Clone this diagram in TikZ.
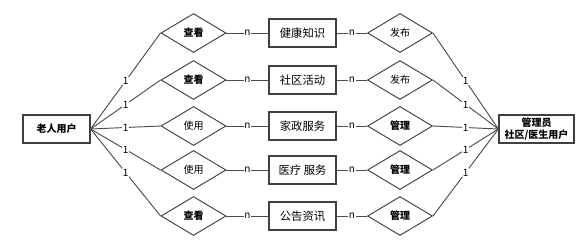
\documentclass[tikz,border=0pt]{standalone}
\usepackage{fontspec}
\setmainfont{Noto Sans CJK SC}
\usetikzlibrary{shapes.geometric}
\tikzset{
  entity/.style={draw=black!75, line width=0.9pt, fill=white, minimum width=50.25pt,
    minimum height=21pt, inner sep=1pt, align=center, font=\fontsize{8.5}{10}\selectfont},
  mainentity/.style={entity, font=\fontsize{7.5}{8.6}\selectfont\bfseries},
  relation/.style={diamond, draw=black!75, line width=0.7pt, fill=white, aspect=1.67,
    minimum width=48.75pt, minimum height=29.25pt, inner sep=0pt},
  card/.style={fill=white, inner sep=0.6pt, font=\fontsize{7.5}{8}\selectfont},
  link/.style={draw=black!70, line width=0.7pt}
}
\begin{document}
\begin{tikzpicture}[x=0.75pt, y=-0.75pt, font=\fontsize{7.5}{9}\selectfont]
\useasboundingbox (0,0) rectangle (588,248);
% the two user entities
\node[mainentity] (elder) at (56.5,129) {老人用户};
\node[mainentity, minimum width=56.25pt] (admin) at (536.5,129) {管理员\\社区/医生用户};
% one row per service: relation, entity, relation
\foreach \i/\y/\use/\item/\own in {
  1/33/\textbf{查看}/健康知识/发布,
  2/80/\textbf{查看}/社区活动/发布,
  3/126/使用/家政服务/\textbf{管理},
  4/170/使用/医疗 服务/\textbf{管理},
  5/216/\textbf{查看}/公告资讯/\textbf{管理}} {
  \node[relation] (use\i) at (193.5,\y) {\use};
  \node[entity] (item\i) at (302.5,\y) {\item};
  \node[relation] (own\i) at (400,\y) {\own};
  \draw[link] (elder.east) -- node[card] {1} (use\i.west);
  \draw[link] (use\i.east) -- node[card] {n} (item\i.west);
  \draw[link] (item\i.east) -- node[card] {n} (own\i.west);
  \draw[link] (own\i.east) -- node[card] {1} (admin.west);
}
\end{tikzpicture}
\end{document}
